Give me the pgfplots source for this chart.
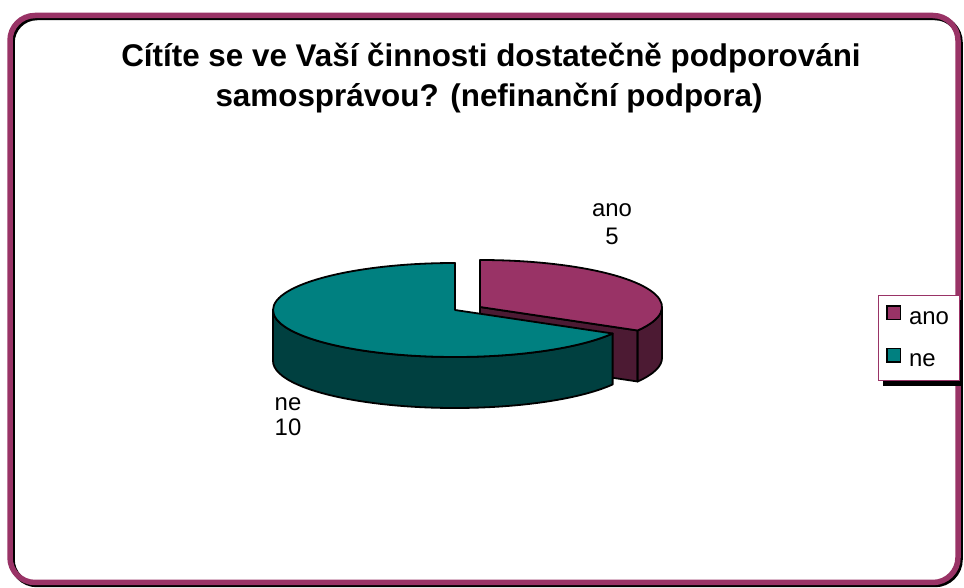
\documentclass[border=0pt]{standalone}
\usepackage{fontspec}
\setmainfont{Liberation Sans}
\usepackage{pgfplots}
\usepackage{pgfplotstable}
\pgfplotsset{compat=1.18}
\definecolor{anoTop}{HTML}{993366}
\definecolor{anoSide}{HTML}{4C1A33}
\definecolor{neTop}{HTML}{008080}
\definecolor{neSide}{HTML}{004040}
\definecolor{frame}{HTML}{993366}

\pgfplotstableread{
label value
ano 5
ne 10
}\piedata

\begin{document}
\begin{tikzpicture}
\pgfplotstablegetelem{0}{value}\of\piedata \let\valA\pgfplotsretval
\pgfplotstablegetelem{1}{value}\of\piedata \let\valB\pgfplotsretval
\pgfmathsetmacro{\angA}{360*\valA/(\valA+\valB)}
\pgfmathsetmacro{\cutA}{90-\angA}
\pgfmathsetmacro{\cutB}{360+\cutA}
\def\cxA{480}\def\cyA{281}
\def\cxB{455}\def\cyB{278}
\def\ra{182}\def\rb{47}\def\hh{51}
\begin{axis}[
  at={(0,0)}, anchor=south west,
  width=964bp, height=588bp, scale only axis, hide axis,
  xmin=0, xmax=964, ymin=0, ymax=588, clip=false,
  legend style={at={(axis cs:878,293)}, anchor=north west, draw=frame,
    line width=0.8bp, fill=white, font=\fontsize{24}{28}\selectfont,
    inner xsep=8bp, inner ysep=10bp, row sep=20bp,
    cells={anchor=west, text height=17bp, text depth=0bp}},
  legend image code/.code={\draw[#1, line width=1.4bp] (0bp,-3bp) rectangle (13.5bp,10.5bp);
    \path[draw=none, fill=none] (0bp,0bp) -- (20bp,0bp);},
]
% frame
\draw[black, line width=5.5bp, rounded corners=25bp] (axis cs:12,3.5) rectangle (axis cs:960,570.5);
\draw[frame, line width=5.5bp, rounded corners=25bp] (axis cs:10,5.5) rectangle (axis cs:958,572.5);

% legend shadow
\fill[black] (axis cs:883,288) rectangle (axis cs:962,202);

% ano slice (exploded, behind)
\filldraw[fill=anoSide, draw=black, line width=1.8bp, line join=round]
  (axis cs:\cxA,\cyA) -- (axis cs:{\cxA+\ra*cos(\cutA)},{\cyA+\rb*sin(\cutA)})
  -- ++(0bp,-\hh bp) -- (axis cs:\cxA,{\cyA-\hh}) -- cycle;
\filldraw[fill=anoSide, draw=black, line width=1.8bp, line join=round]
  (axis cs:{\cxA+\ra*cos(\cutA)},{\cyA+\rb*sin(\cutA)})
  arc[start angle=\cutA, end angle=0, x radius=\ra bp, y radius=\rb bp]
  -- ++(0bp,-\hh bp)
  arc[start angle=0, end angle=\cutA, x radius=\ra bp, y radius=\rb bp] -- cycle;
\filldraw[fill=anoTop, draw=black, line width=1.8bp, line join=round]
  (axis cs:\cxA,\cyA) -- (axis cs:{\cxA+\ra*cos(\cutA)},{\cyA+\rb*sin(\cutA)})
  arc[start angle=\cutA, end angle=90, x radius=\ra bp, y radius=\rb bp] -- cycle;

% ne slice
\filldraw[fill=neSide, draw=black, line width=1.8bp, line join=round]
  (axis cs:{\cxB-\ra},\cyB)
  arc[start angle=180, end angle=\cutB, x radius=\ra bp, y radius=\rb bp]
  -- ++(0bp,-\hh bp)
  arc[start angle=\cutB, end angle=180, x radius=\ra bp, y radius=\rb bp] -- cycle;
\filldraw[fill=neTop, draw=black, line width=1.8bp, line join=round]
  (axis cs:\cxB,\cyB) -- (axis cs:\cxB,{\cyB+\rb})
  arc[start angle=90, end angle=\cutB, x radius=\ra bp, y radius=\rb bp] -- cycle;

% title
\node[anchor=base, inner sep=0pt, font=\bfseries\fontsize{31.5}{36}\selectfont] at (axis cs:491,521) {Cítíte se ve Vaší činnosti dostatečně podporováni};
\node[anchor=base, inner sep=0pt, font=\bfseries\fontsize{31.5}{36}\selectfont] at (axis cs:489,481) {samosprávou? (nefinanční podpora)};

% data labels
\node[anchor=base, inner sep=0pt, font=\fontsize{24}{28}\selectfont] at (axis cs:612,371) {ano};
\node[anchor=base, inner sep=0pt, font=\fontsize{24}{28}\selectfont] at (axis cs:612,343) {\valA};
\node[anchor=base, inner sep=0pt, font=\fontsize{24}{28}\selectfont] at (axis cs:288,177) {ne};
\node[anchor=base, inner sep=0pt, font=\fontsize{24}{28}\selectfont] at (axis cs:288,152) {\valB};

\addlegendimage{fill=anoTop, draw=black}
\addlegendentry{ano}
\addlegendimage{fill=neTop, draw=black}
\addlegendentry{ne}
\end{axis}
\pgfresetboundingbox
\path[use as bounding box] (0,0) rectangle (964bp,588bp);
\end{tikzpicture}
\end{document}
